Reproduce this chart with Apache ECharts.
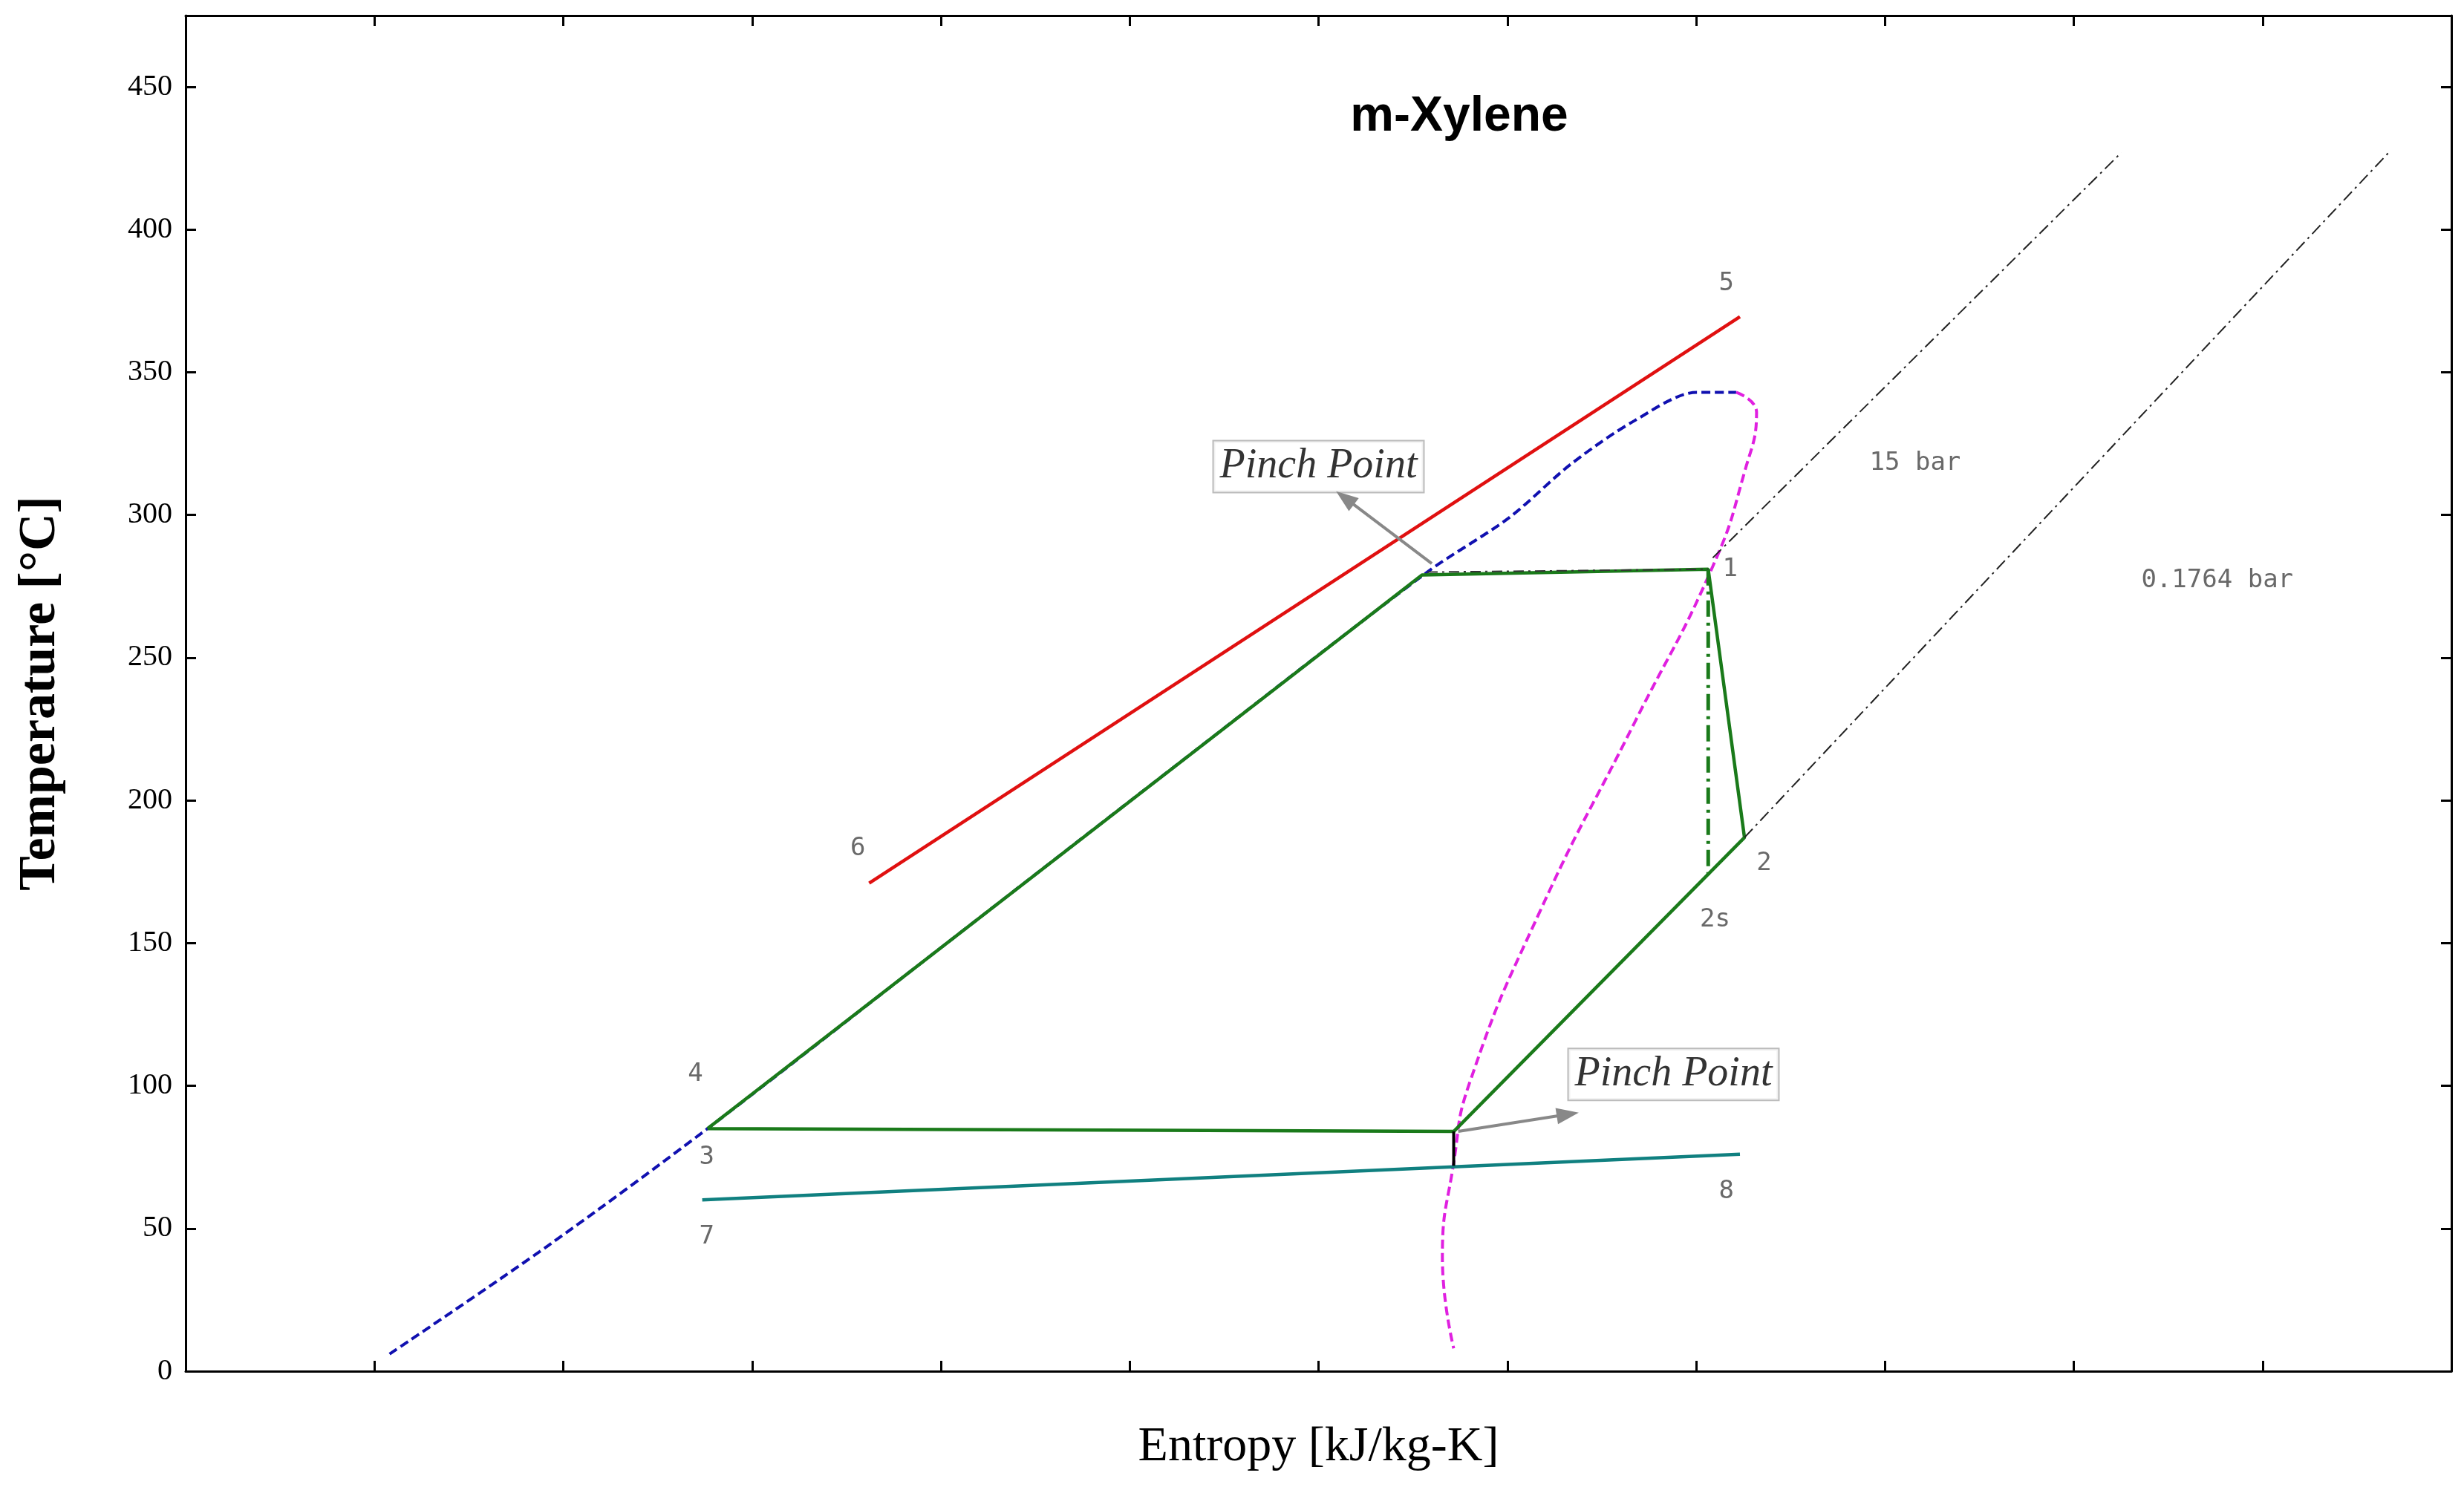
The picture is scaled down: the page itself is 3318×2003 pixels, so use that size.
<!DOCTYPE html>
<html>
<head>
<meta charset="utf-8">
<script src="https://cdn.jsdelivr.net/npm/echarts@6/dist/echarts.min.js"></script>
<style>html,body{margin:0;background:#fff}#chart{width:3318px;height:2003px}</style>
</head>
<body>
<div id="chart"></div>
<script>
// entropy (arbitrary kJ/kg-K scale), temperature °C
const liquidLine = [[0.27, 6], [0.48, 44], [0.691, 85], [1.003, 149], [1.315, 213], [1.644, 280], [1.752, 299], [1.835, 318], [1.918, 333], [2.001, 343], [2.053, 343]];
const vaporLine = [[2.053, 343], [2.08, 336], [2.064, 315], [2.022, 282], [1.918, 227], [1.793, 161], [1.70, 101], [1.679, 73], [1.664, 40], [1.679, 8]];
const hotSource = [[0.905, 171], [2.058, 369.5]];
const coolant = [[0.684, 60], [2.058, 76]];
const cycle = [[0.691, 85], [1.637, 279], [2.016, 281], [2.064, 187], [1.679, 84], [0.691, 85]];
const isentropic = [[2.016, 281], [2.016, 173]];
const bar15 = [[2.022, 285], [2.563, 427]];
const bar01764 = [[2.064, 187], [2.917, 427]];
const evapLine = [[1.644, 280], [2.016, 281]];
const pinchTick = [[1.679, 84], [1.679, 72]];
const pointLabels = [
  ["5", 2.04, 381], ["6", 0.89, 183], ["4", 0.675, 104], ["3", 0.69, 75],
  ["7", 0.69, 47], ["8", 2.04, 63], ["1", 2.045, 281], ["2", 2.09, 178],
  ["2s", 2.025, 158], ["15 bar", 2.29, 318], ["0.1764 bar", 2.69, 277]
];
const pinchBoxes = [["Pinch Point", 1.5, 317, 1.65, 283, 1.535, 306], ["Pinch Point", 1.97, 104, 1.685, 84, 1.83, 90]];

const chart = echarts.init(document.getElementById("chart"));
const mono = "DejaVu Sans Mono";
const boxAxis = {
  axisLine: { show: true, onZero: false, lineStyle: { color: "#000", width: 3 } },
  axisTick: { inside: true, length: 14, lineStyle: { width: 3 } },
  axisLabel: { show: false }, splitLine: { show: false }
};
chart.setOption({
  animation: false,
  title: { text: "m-Xylene", left: 1960, top: 120, textAlign: "center",
    textStyle: { fontFamily: "Liberation Sans", fontWeight: "bold", fontSize: 66, color: "#000" } },
  grid: { left: 250, right: 17, top: 21, bottom: 156 },
  xAxis: [Object.assign({
    type: "value", min: 0, max: 3.0, interval: 0.25,
    name: "Entropy [kJ/kg-K]", nameLocation: "middle", nameGap: 70,
    nameTextStyle: { fontFamily: "Liberation Serif", fontSize: 66, color: "#000" }
  }, boxAxis), Object.assign({
    type: "value", position: "top", min: 0, max: 3.0, interval: 0.25
  }, boxAxis)],
  yAxis: [Object.assign({}, boxAxis, {
    type: "value", min: 0, max: 475, interval: 50,
    name: "Temperature [°C]", nameLocation: "middle", nameGap: 160,
    nameTextStyle: { fontFamily: "Liberation Serif", fontWeight: "bold", fontSize: 70, color: "#000" },
    axisLabel: { fontFamily: "Liberation Serif", fontSize: 40, color: "#000", showMaxLabel: false, margin: 18 }
  }), Object.assign({
    type: "value", position: "right", min: 0, max: 475, interval: 50
  }, boxAxis)],
  series: [
    { type: "line", data: liquidLine, smooth: 0.3, symbol: "none", lineStyle: { color: "#1010b0", width: 4, type: [12, 6] } },
    { type: "line", data: vaporLine, smooth: true, symbol: "none", lineStyle: { color: "#e020e0", width: 4, type: [12, 6] } },
    { type: "line", data: hotSource, symbol: "none", lineStyle: { color: "#e01010", width: 4.5 } },
    { type: "line", data: coolant, symbol: "none", lineStyle: { color: "#108080", width: 4.5 } },
    { type: "line", data: cycle, symbol: "none", lineStyle: { color: "#1a7a1a", width: 4.5 } },
    { type: "line", data: isentropic, symbol: "none", lineStyle: { color: "#1a7a1a", width: 5, type: [22, 8, 4, 8] } },
    { type: "line", data: evapLine, symbol: "none", lineStyle: { color: "#333", width: 2, type: [14, 6, 3, 6] } },
    { type: "line", data: bar15, symbol: "none", lineStyle: { color: "#222", width: 2, type: [16, 6, 3, 6] } },
    { type: "line", data: bar01764, symbol: "none", lineStyle: { color: "#222", width: 2, type: [16, 6, 3, 6] } },
    { type: "line", data: pinchTick, symbol: "none", lineStyle: { color: "#000", width: 4 } },
    {
      type: "scatter", symbolSize: 0, silent: true,
      data: pointLabels.map(p => ({ value: [p[1], p[2]], name: p[0] })),
      label: { show: true, formatter: "{b}", position: "inside", fontFamily: mono, fontSize: 34, color: "#444" }
    },
    {
      type: "scatter", symbolSize: 0, silent: true,
      data: pinchBoxes.map(p => ({ value: [p[1], p[2]], name: p[0] })),
      label: { show: true, formatter: "{b}", position: "inside", fontFamily: "Liberation Serif", fontStyle: "italic",
        fontSize: 56, color: "#000", backgroundColor: "#fff", borderColor: "#aaa", borderWidth: 2, padding: [6, 8] },
      markLine: {
        silent: true, symbol: ["none", "triangle"], symbolSize: [22, 30],
        label: { show: false },
        lineStyle: { color: "#888", width: 4, type: "solid" },
        data: pinchBoxes.map(p => [{ coord: [p[3], p[4]] }, { coord: [p[5], p[6]] }])
      }
    }
  ]
});
</script>
</body>
</html>
